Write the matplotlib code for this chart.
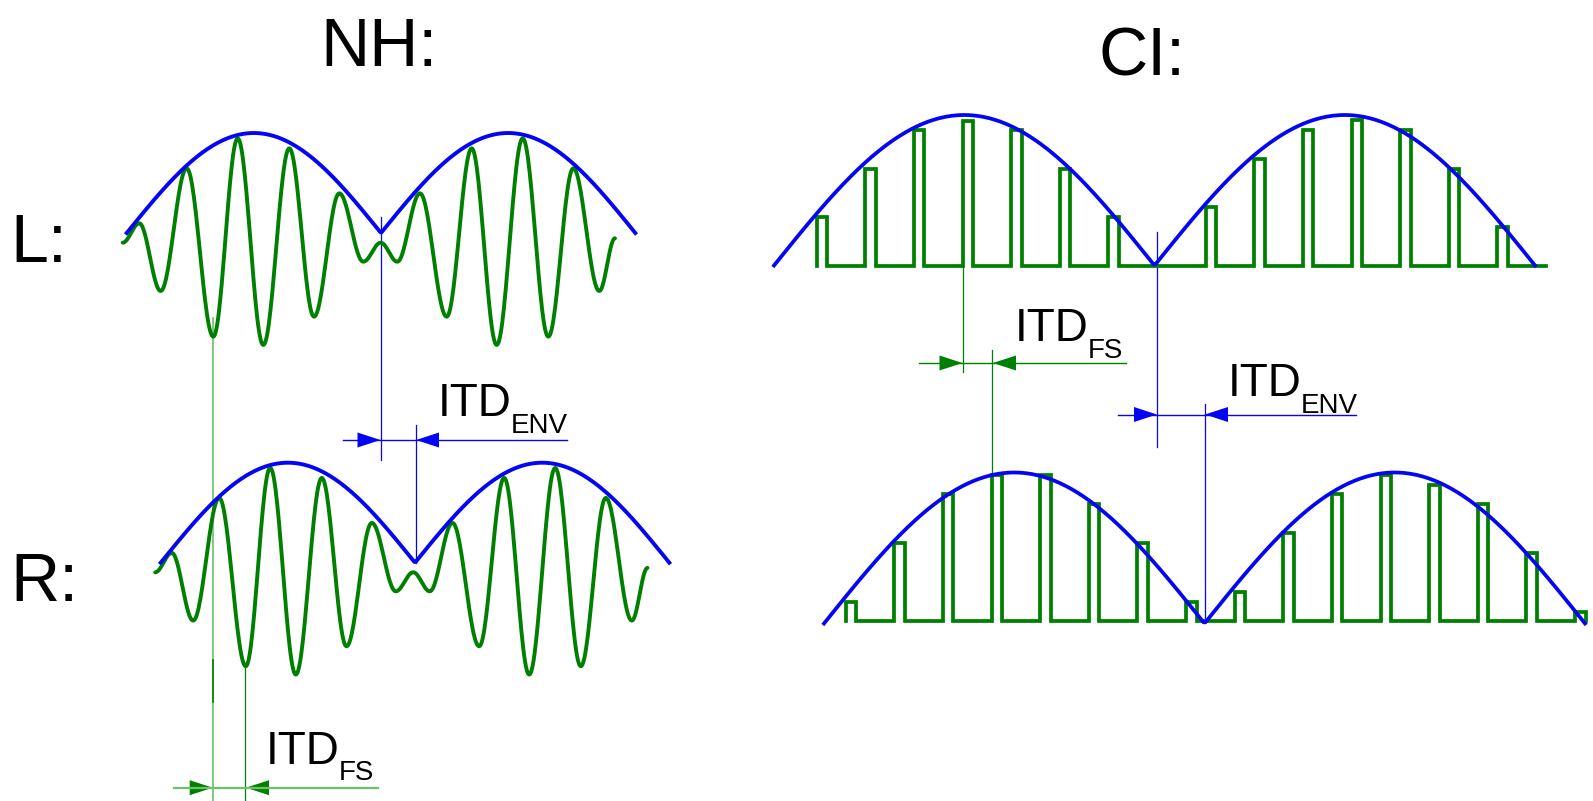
#!/usr/bin/env python

### Read in libraries ###
import numpy as np
import matplotlib
matplotlib.use("Agg")
import matplotlib.pyplot as plt


### Input data (pixel units, y down) ###

# NH, left ear: extrema of the carrier wave (x, y)
nh_wave_x = [122.7, 139.3, 160.7, 186.7, 213.3, 237.7, 263.3, 289.3, 314.0, 339.3, 363.3,
             380.7, 397.3, 420.0, 446.7, 471.7, 496.7, 522.7, 548.3, 573.3, 599.3, 615.0]
nh_wave_y = [242.7, 223.3, 291.0, 168.3, 336.7, 138.3, 345.0, 148.3, 316.7, 193.3, 261.7,
             242.7, 261.7, 193.3, 316.7, 148.3, 345.0, 138.3, 336.7, 168.3, 291.0, 238.3]
# right ear copy is shifted by the fine structure ITD
nh_r_shift = (32.5, 329.6)

# NH envelopes: start x, zero line y, arc length, depth
nh_env_start = [126.7, 160.7]
nh_env_zero = [233.0, 562.7]
nh_env_period = 254.3
nh_env_depth = 100.0

# CI pulse trains
ci_pulse_start = [816.7, 845.7]
ci_pulse_step = 48.62
ci_pulse_width = 10.5
ci_baseline = [265.7, 621.0]
ci_train_end = [1546.0, 1586.0]
ci_heights_top = [48.4, 96.4, 135.7, 145.0, 135.7, 96.4, 48.4, 0.0,
                  58.4, 106.4, 135.7, 145.7, 135.7, 97.0, 39.0]
ci_heights_bottom = [19.3, 77.7, 126.7, 146.0, 146.0, 117.0, 77.7, 19.3,
                     28.7, 87.7, 126.7, 146.0, 136.0, 117.0, 67.7, 9.3]

# CI envelopes
ci_env_start = [774.0, 824.0]
ci_env_zero = [265.5, 623.5]
ci_env_period = 380.5
ci_env_depth = [150.5, 151.0]

GREEN = "#008000"
LIGHT_GREEN = "#6cc06c"
BLUE = "#0505f5"


### FUNCTIONS ###

def smooth_through(xs, ys, n=30):
    # half-cosine segments between successive extrema
    out_x, out_y = [], []
    for i in range(len(xs) - 1):
        t = np.linspace(0, 1, n)
        s = (1 - np.cos(np.pi * t)) / 2
        out_x.extend(xs[i] + (xs[i + 1] - xs[i]) * t)
        out_y.extend(ys[i] + (ys[i + 1] - ys[i]) * s)
    return np.array(out_x), np.array(out_y)


def envelope(start, zero, period, depth, n_arcs=2):
    x = np.linspace(start, start + n_arcs * period, 400)
    y = zero - depth * np.abs(np.sin(np.pi * (x - start) / period))
    return x, y


def pulse_train(start, step, width, base, heights, end):
    px, py = [start], [base]
    for k, h in enumerate(heights):
        x0 = start + k * step
        if h > 0:
            px += [x0, x0, x0 + width, x0 + width]
            py += [base, base - h, base - h, base]
    last = start + (len(heights) - 1) * step + width
    if end > last:
        px.append(end)
        py.append(base)
    return px, py


def arrow_head(ax, tip_x, y, direction, color, length=23, half=7.5):
    # direction +1 points right, -1 points left
    ax.fill([tip_x, tip_x - direction * length, tip_x - direction * length],
            [y, y - half, y + half], color=color, lw=0)


def itd_label(ax, x, y, sub, sub_dx):
    ax.text(x, y, "ITD", fontsize=33, va="baseline", ha="left")
    ax.text(x + sub_dx, y + 17, sub, fontsize=20, va="baseline", ha="left")


### MAIN SCRIPT ###

plt.rcParams["font.family"] = ["Liberation Sans", "DejaVu Sans"]

fig = plt.figure(figsize=(15.93, 8.01), dpi=100)
ax = fig.add_axes([0, 0, 1, 1])
ax.set_xlim(0, 1593)
ax.set_ylim(801, 0)
ax.axis("off")

# Titles
ax.text(320, 66, "NH:", fontsize=49, va="baseline")
ax.text(1098, 76, "CI:", fontsize=49, va="baseline")
ax.text(10, 262, "L:", fontsize=49, va="baseline")
ax.text(10, 601, "R:", fontsize=49, va="baseline")

# NH guide lines (behind waves)
ax.plot([213.3, 213.3], [318, 801], color=LIGHT_GREEN, lw=1.2)
ax.plot([213.3, 213.3], [660, 702], color=GREEN, lw=1.2)
ax.plot([245.0, 245.0], [666, 801], color=GREEN, lw=0.9)
ax.plot([174, 377.7], [787.7, 787.7], color=LIGHT_GREEN, lw=1.6)
arrow_head(ax, 212.7, 787.7, 1, GREEN)
arrow_head(ax, 246.0, 787.7, -1, GREEN)
itd_label(ax, 266, 763.5, "FS", 73)

ax.plot([381, 381], [217, 460], color=BLUE, lw=0.9)
ax.plot([415.5, 415.5], [425, 563], color=BLUE, lw=0.9)
ax.plot([342.7, 567.3], [440, 440], color=BLUE, lw=1.0)
arrow_head(ax, 380.5, 440, 1, BLUE)
arrow_head(ax, 416.0, 440, -1, BLUE)
itd_label(ax, 437.5, 416, "ENV", 73)

# NH waves
wx, wy = smooth_through(nh_wave_x, nh_wave_y)
ax.plot(wx, wy, color=GREEN, lw=2.8, solid_capstyle="round")
ax.plot(wx + nh_r_shift[0], wy + nh_r_shift[1], color=GREEN, lw=2.8,
        solid_capstyle="round")
for s, z in zip(nh_env_start, nh_env_zero):
    ex, ey = envelope(s, z, nh_env_period, nh_env_depth)
    ax.plot(ex, ey, color=BLUE, lw=2.8)

# CI guide lines
ax.plot([962.7, 962.7], [266, 372], color=GREEN, lw=0.9)
ax.plot([992.3, 992.3], [350, 475], color=GREEN, lw=0.9)
ax.plot([919, 1126], [363, 363], color=GREEN, lw=1.0)
arrow_head(ax, 962.5, 363, 1, GREEN)
arrow_head(ax, 993.0, 363, -1, GREEN)
itd_label(ax, 1015, 341, "FS", 73)

ax.plot([1156.7, 1156.7], [232, 447], color=BLUE, lw=0.9)
ax.plot([1205.0, 1205.0], [404, 619], color=BLUE, lw=0.9)
ax.plot([1117.6, 1356], [414.5, 414.5], color=BLUE, lw=1.0)
arrow_head(ax, 1157, 414.5, 1, BLUE)
arrow_head(ax, 1205, 414.5, -1, BLUE)
itd_label(ax, 1228, 396, "ENV", 73)

# CI pulse trains and envelopes
for i, heights in enumerate([ci_heights_top, ci_heights_bottom]):
    px, py = pulse_train(ci_pulse_start[i], ci_pulse_step, ci_pulse_width,
                         ci_baseline[i], heights, ci_train_end[i])
    ax.plot(px, py, color=GREEN, lw=2.7, solid_joinstyle="miter")
    ex, ey = envelope(ci_env_start[i], ci_env_zero[i], ci_env_period,
                      ci_env_depth[i])
    ax.plot(ex, ey, color=BLUE, lw=2.7)

plt.savefig("out.png", dpi=100)
plt.close()
